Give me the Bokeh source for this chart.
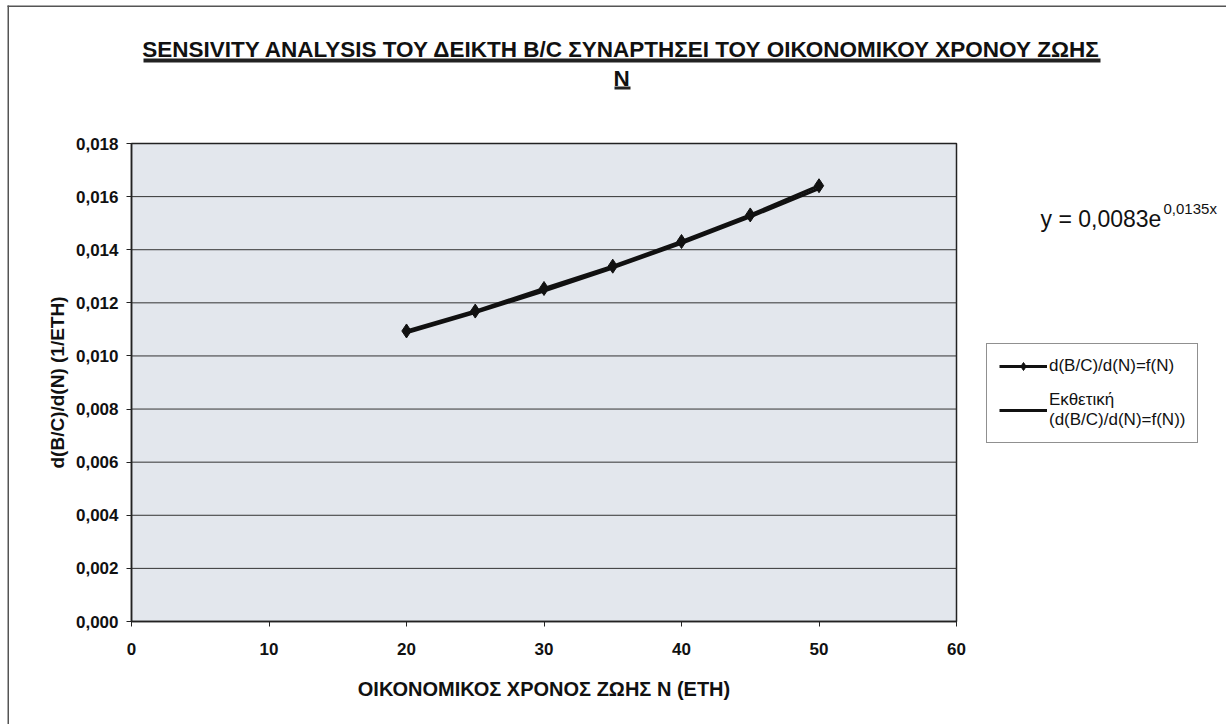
import numpy as np
from bokeh.plotting import figure
from bokeh.models import (Label, BoxAnnotation, Legend, LegendItem, FixedTicker,
                          CustomJSTickFormatter)
from bokeh.embed import file_html
from bokeh.resources import INLINE

# ---------------- data ----------------
years_N = [20, 25, 30, 35, 40, 45, 50]
dBC_dN = [0.01094, 0.01169, 0.01254, 0.01338, 0.01431, 0.01531, 0.01641]
trend_a = 0.0083
trend_b = 0.0135
x_ticks = [0, 10, 20, 30, 40, 50, 60]
y_ticks = [0.000, 0.002, 0.004, 0.006, 0.008, 0.010, 0.012, 0.014, 0.016, 0.018]

title_line1 = "SENSIVITY ANALYSIS ΤΟΥ ΔΕΙΚΤΗ Β/C ΣΥΝΑΡΤΗΣΕΙ ΤΟΥ ΟΙΚΟΝΟΜΙΚΟΥ ΧΡΟΝΟΥ ΖΩΗΣ"
title_line2 = "N"
x_label = "ΟΙΚΟΝΟΜΙΚΟΣ ΧΡΟΝΟΣ ΖΩΗΣ Ν (ΕΤΗ)"
y_label = "d(B/C)/d(N) (1/ETH)"
series_label = "d(B/C)/d(N)=f(N)"
trend_label = "Εκθετική\n(d(B/C)/d(N)=f(N))"
eq_main = "y = 0,0083e"
eq_sup = "0,0135x"

trend_y = [trend_a * np.exp(trend_b * n) for n in years_N]

# ---------------- layout (pixels) ----------------
FONT = "Liberation Sans"
W, H = 1226, 724
PX_LEFT, PX_RIGHT = 131, 956     # plot area in canvas pixels
PY_TOP, PY_BOTTOM = 143, 621

x_lo, x_hi = x_ticks[0], x_ticks[-1]
y_lo, y_hi = y_ticks[0], y_ticks[-1]
kx = (x_hi - x_lo) / (PX_RIGHT - PX_LEFT)
ky = (y_hi - y_lo) / (PY_BOTTOM - PY_TOP)
x_range = (x_lo - PX_LEFT * kx, x_lo + (W - PX_LEFT) * kx)
y_range = (y_lo - (H - PY_BOTTOM) * ky, y_lo + PY_BOTTOM * ky)


def sy(py):  # canvas y (top-down) -> screen units (bottom-up)
    return H - py


p = figure(width=W, height=H, output_backend="svg", toolbar_location=None,
           x_range=x_range, y_range=y_range,
           min_border=0, min_border_left=0, min_border_right=0,
           min_border_top=0, min_border_bottom=0)
p.title = None
p.background_fill_color = "white"
p.border_fill_color = "white"
p.outline_line_color = None
p.xgrid.grid_line_color = None
p.ygrid.grid_line_color = None

# plot area background + border
p.quad(left=x_lo, right=x_hi, bottom=y_lo, top=y_hi,
       fill_color="#e3e7ed", line_color="#222222", line_width=1.5)
# horizontal gridlines
p.segment(x0=[x_lo] * (len(y_ticks) - 2), x1=[x_hi] * (len(y_ticks) - 2),
          y0=y_ticks[1:-1], y1=y_ticks[1:-1], line_color="#333333", line_width=1)

# axes fixed at the plot-area edges
p.xaxis.fixed_location = y_lo
p.yaxis.fixed_location = x_lo
p.xaxis.bounds = (x_lo, x_hi)
p.yaxis.bounds = (y_lo, y_hi)
p.xaxis.ticker = FixedTicker(ticks=x_ticks)
p.yaxis.ticker = FixedTicker(ticks=y_ticks)
p.yaxis.formatter = CustomJSTickFormatter(code="return tick.toFixed(3).replace('.', ',');")
for ax in (p.xaxis[0], p.yaxis[0]):
    ax.axis_line_color = "#222222"
    ax.axis_line_width = 1.5
    ax.major_tick_line_color = "#222222"
    ax.major_tick_out = 5
    ax.major_tick_in = 0
    ax.minor_tick_line_color = None
    ax.major_label_text_font = FONT
    ax.major_label_text_font_style = "bold"
    ax.major_label_text_font_size = "17px"
    ax.major_label_text_color = "#111111"
    ax.axis_label_text_font = FONT
    ax.axis_label_text_font_style = "bold"
    ax.axis_label_text_color = "#111111"
p.xaxis.axis_label = x_label
p.yaxis.axis_label = y_label
p.xaxis.axis_label_text_font_size = "20px"
p.yaxis.axis_label_text_font_size = "19px"
p.xaxis.major_label_standoff = 16
p.xaxis.axis_label_standoff = 20
p.yaxis.major_label_standoff = 8
p.yaxis.axis_label_standoff = 5

# series
trend = p.line(years_N, trend_y, line_color="#111111", line_width=3)
ln = p.line(years_N, dBC_dN, line_color="#111111", line_width=3)
pts = p.scatter(years_N, dBC_dN, marker="diamond", size=14, fill_color="#111111",
                line_color="#111111")

legend = Legend(items=[LegendItem(label=series_label, renderers=[ln, pts]),
                       LegendItem(label=trend_label, renderers=[trend])],
                location=(986, sy(443)))
legend.label_text_font = FONT
legend.label_text_font_size = "17px"
legend.label_text_color = "#111111"
legend.glyph_width = 48
legend.glyph_height = 20
legend.label_standoff = 2
legend.padding = 12
legend.spacing = 14
legend.margin = 0
legend.border_line_color = "#222222"
legend.border_line_width = 1
legend.background_fill_color = "white"
legend.background_fill_alpha = 1
p.add_layout(legend)


def box(l, r, t, b, color="#222222"):
    p.add_layout(BoxAnnotation(left=l, right=r, top=sy(t), bottom=sy(b),
                               left_units="screen", right_units="screen",
                               top_units="screen", bottom_units="screen",
                               fill_color=color, fill_alpha=1, line_color=None,
                               level="overlay"))


# title
for txt, yy in ((title_line1, 49), (title_line2, 78)):
    p.add_layout(Label(x=621, y=sy(yy), x_units="screen", y_units="screen", text=txt,
                       text_font=FONT, text_font_style="bold", text_font_size="22.5px",
                       text_align="center", text_baseline="middle", text_color="#111111"))
box(143, 1100, 58, 62)
box(614, 630, 86, 89)

# equation
p.add_layout(Label(x=1040, y=sy(218), x_units="screen", y_units="screen", text=eq_main,
                   text_font=FONT, text_font_size="23px", text_align="left",
                   text_baseline="middle", text_color="#111111"))
p.add_layout(Label(x=1163, y=sy(208), x_units="screen", y_units="screen", text=eq_sup,
                   text_font=FONT, text_font_size="15px", text_align="left",
                   text_baseline="middle", text_color="#111111"))

# outer frame (left and top edges)
box(7, 8.5, 5, H, color="#555555")
box(7, W, 5, 6.5, color="#555555")

open("out.html", "w").write(file_html(p, INLINE))
